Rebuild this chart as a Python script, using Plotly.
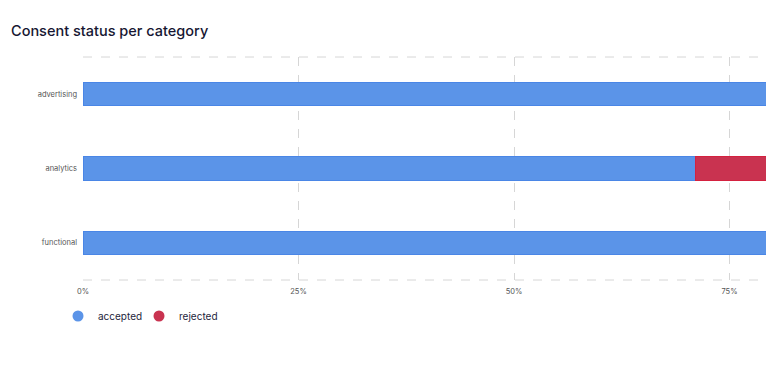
import plotly.graph_objects as go

categories = ["advertising", "analytics", "functional"]
accepted = [100, 71, 100]
rejected = [0, 29, 0]
tick_vals = [0, 25, 50, 75]
tick_text = ["0%", "25%", "50%", "75%"]

W, H = 980, 360
OFF = 8  # page body margin
BLUE = "rgba(91,148,232,1)"
BLUE_LINE = "#4a86e6"
RED = "rgba(201,51,80,1)"
RED_LINE = "#d4213f"

fig = go.Figure()
fig.add_trace(go.Bar(y=categories, x=accepted, orientation="h", name="accepted",
                     marker=dict(color=BLUE, line=dict(color=BLUE_LINE, width=1)),
                     showlegend=False))
fig.add_trace(go.Bar(y=categories, x=rejected, orientation="h", name="rejected",
                     marker=dict(color=RED, line=dict(color=RED_LINE, width=1)),
                     showlegend=False))
# legend entries with circle markers
fig.add_trace(go.Scatter(x=[None], y=[None], mode="markers", name="accepted",
                         marker=dict(symbol="circle", size=11, color=BLUE),
                         legend="legend"))
fig.add_trace(go.Scatter(x=[None], y=[None], mode="markers", name="rejected",
                         marker=dict(symbol="circle", size=11, color=RED),
                         legend="legend2"))

leg_common = dict(orientation="h", xref="container", yref="container",
                  xanchor="left", y=1 - (316 - OFF) / H, yanchor="middle",
                  font=dict(size=10, color="#1e1e3c"), itemwidth=30,
                  bgcolor="rgba(0,0,0,0)")

fig.update_layout(
    width=W, height=H,
    barmode="stack", bargap=0.69,
    margin=dict(l=83 - OFF, r=43, t=57 - OFF, b=H - 280 + OFF, autoexpand=False),
    paper_bgcolor="white", plot_bgcolor="white",
    font=dict(family="Inter, sans-serif", color="#666"),
    title=dict(text="Consent status per category", x=(11 - OFF) / W, xanchor="left",
               xref="container", y=1 - (31 - OFF) / H, yanchor="middle", yref="container",
               font=dict(size=14.5, color="#161632", family="Inter, sans-serif", weight=500)),
    legend=dict(leg_common, x=(77 - OFF - 19) / W),
    legend2=dict(leg_common, x=(158 - OFF - 19) / W),
    xaxis=dict(range=[0, 100], tickvals=tick_vals, ticktext=tick_text,
               showgrid=True, gridcolor="#d6d6d6", griddash="dash", gridwidth=1,
               zeroline=False, showline=False, ticks="",
               tickfont=dict(size=7.5, color="#555"), ticklabelstandoff=5, fixedrange=True),
    yaxis=dict(categoryorder="array", categoryarray=categories, autorange="reversed",
               showgrid=False, zeroline=False, showline=False, ticks="",
               tickfont=dict(size=7.5, color="#555"), ticklabelstandoff=5),
    shapes=[
        dict(type="line", xref="paper", yref="paper", x0=0, x1=1, y0=1, y1=1,
             line=dict(color="#d6d6d6", width=1, dash="dash")),
        dict(type="line", xref="paper", yref="paper", x0=0, x1=1, y0=0, y1=0,
             line=dict(color="#d6d6d6", width=1, dash="dash")),
    ],
)

fig.write_html("out.html")
